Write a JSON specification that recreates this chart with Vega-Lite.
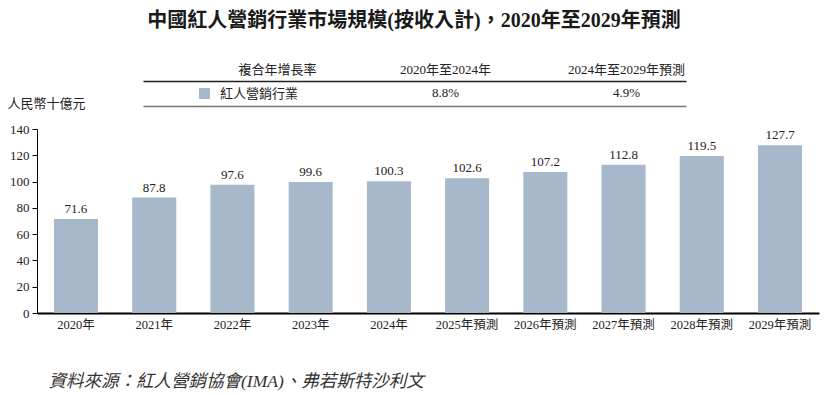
{
  "$schema": "https://vega.github.io/schema/vega-lite/v6.json",
  "width": 782,
  "height": 184,
  "autosize": {"type": "none"},
  "padding": {"left": 37, "top": 129, "right": 12, "bottom": 82},
  "background": "white",
  "config": {
    "font": "Liberation Serif, Noto Sans CJK TC",
    "view": {"stroke": null},
    "text": {"font": "Liberation Serif, Noto Sans CJK TC", "color": "#222222"}
  },
  "title": {
    "text": "中國紅人營銷行業市場規模(按收入計)，2020年至2029年預測",
    "fontSize": 20,
    "fontWeight": "bold",
    "color": "#1a1a1a",
    "anchor": "middle",
    "frame": "group",
    "offset": 33,
    "dx": -14
  },
  "datasets": {
    "market": [
      {"year": "2020年", "value": 71.6, "series": "紅人營銷行業"},
      {"year": "2021年", "value": 87.8, "series": "紅人營銷行業"},
      {"year": "2022年", "value": 97.6, "series": "紅人營銷行業"},
      {"year": "2023年", "value": 99.6, "series": "紅人營銷行業"},
      {"year": "2024年", "value": 100.3, "series": "紅人營銷行業"},
      {"year": "2025年預測", "value": 102.6, "series": "紅人營銷行業"},
      {"year": "2026年預測", "value": 107.2, "series": "紅人營銷行業"},
      {"year": "2027年預測", "value": 112.8, "series": "紅人營銷行業"},
      {"year": "2028年預測", "value": 119.5, "series": "紅人營銷行業"},
      {"year": "2029年預測", "value": 127.7, "series": "紅人營銷行業"}
    ],
    "cagr": [
      {"period": "2020年至2024年", "row": "header", "label": "2020年至2024年"},
      {"period": "2024年至2029年預測", "row": "header", "label": "2024年至2029年預測"},
      {"period": "2020年至2024年", "row": "value", "label": "8.8%"},
      {"period": "2024年至2029年預測", "row": "value", "label": "4.9%"}
    ],
    "cagrHeader": [
      {"column": "複合年增長率", "row": "header", "label": "複合年增長率"}
    ]
  },
  "layer": [
    {
      "data": {"name": "market"},
      "encoding": {
        "x": {
          "field": "year",
          "type": "nominal",
          "sort": null,
          "scale": {"paddingInner": 0.437, "paddingOuter": 0.217},
          "axis": {
            "orient": "bottom",
            "labelAngle": 0,
            "labelFontSize": 12.5,
            "labelColor": "#222222",
            "labelPadding": 5,
            "ticks": false,
            "domainColor": "#000000",
            "domainWidth": 2,
            "title": "資料來源：紅人營銷協會(IMA)、弗若斯特沙利文",
            "titleFontStyle": "italic",
            "titleFontWeight": "normal",
            "titleFontSize": 17.5,
            "titleColor": "#333333",
            "titleX": 11,
            "titleY": 68,
            "titleAlign": "left",
            "titleAnchor": "start",
            "titleBaseline": "middle"
          }
        },
        "y": {
          "field": "value",
          "type": "quantitative",
          "scale": {"domain": [0, 140], "nice": false},
          "axis": {
            "values": [0, 20, 40, 60, 80, 100, 120, 140],
            "grid": false,
            "tickSize": 5,
            "tickColor": "#000000",
            "domainColor": "#000000",
            "labelPadding": 3,
            "labelFontSize": 13,
            "labelColor": "#222222",
            "title": "人民幣十億元",
            "titleAngle": 0,
            "titleX": -30,
            "titleY": -26,
            "titleAlign": "left",
            "titleBaseline": "middle",
            "titleFontWeight": "normal",
            "titleFontSize": 13,
            "titleColor": "#222222"
          }
        }
      },
      "layer": [
        {
          "mark": {"type": "bar"},
          "encoding": {
            "color": {
              "field": "series",
              "type": "nominal",
              "scale": {"range": ["#a7b8cb"]},
              "legend": {
                "orient": "none",
                "legendX": 161,
                "legendY": -42,
                "title": null,
                "symbolType": "square",
                "symbolSize": 121,
                "symbolStrokeWidth": 0,
                "symbolOpacity": 1,
                "labelFontSize": 13,
                "labelColor": "#222222",
                "labelOffset": 9
              }
            }
          }
        },
        {
          "mark": {"type": "text", "baseline": "bottom", "dy": -3, "fontSize": 13, "color": "#222222"},
          "encoding": {
            "text": {"field": "value", "type": "quantitative", "format": ".1f"}
          }
        }
      ]
    },
    {
      "data": {"name": "cagr"},
      "mark": {"type": "text", "baseline": "middle", "align": "center", "fontSize": 13, "color": "#222222"},
      "encoding": {
        "x": {
          "field": "period",
          "type": "nominal",
          "sort": null,
          "scale": {
            "type": "point",
            "domain": ["2020年至2024年", "2024年至2029年預測"],
            "range": [106, 649],
            "padding": 1.4255,
            "align": 0.8358
          },
          "axis": {
            "orient": "top",
            "offset": 48,
            "labels": false,
            "ticks": false,
            "grid": false,
            "title": null,
            "domainColor": "#222222",
            "domainWidth": 1.3
          }
        },
        "y": {
          "field": "row",
          "type": "nominal",
          "scale": {"type": "point", "domain": ["header", "value"], "range": [-59, -36], "padding": 0},
          "axis": null
        },
        "text": {"field": "label"}
      }
    },
    {
      "data": {"name": "cagrHeader"},
      "mark": {"type": "text", "baseline": "middle", "align": "center", "fontSize": 13, "color": "#222222"},
      "encoding": {
        "x": {
          "field": "column",
          "type": "nominal",
          "scale": {
            "type": "point",
            "domain": ["複合年增長率"],
            "range": [106, 649],
            "padding": 1,
            "align": 0.2477
          },
          "axis": {
            "orient": "top",
            "offset": 23,
            "labels": false,
            "ticks": false,
            "grid": false,
            "title": null,
            "domainColor": "#777777",
            "domainWidth": 1.3
          }
        },
        "y": {
          "field": "row",
          "type": "nominal",
          "scale": {"type": "point", "domain": ["header", "value"], "range": [-59, -36], "padding": 0},
          "axis": null
        },
        "text": {"field": "label"}
      }
    }
  ],
  "resolve": {
    "scale": {"x": "independent", "y": "independent"},
    "axis": {"x": "independent", "y": "independent"}
  }
}
